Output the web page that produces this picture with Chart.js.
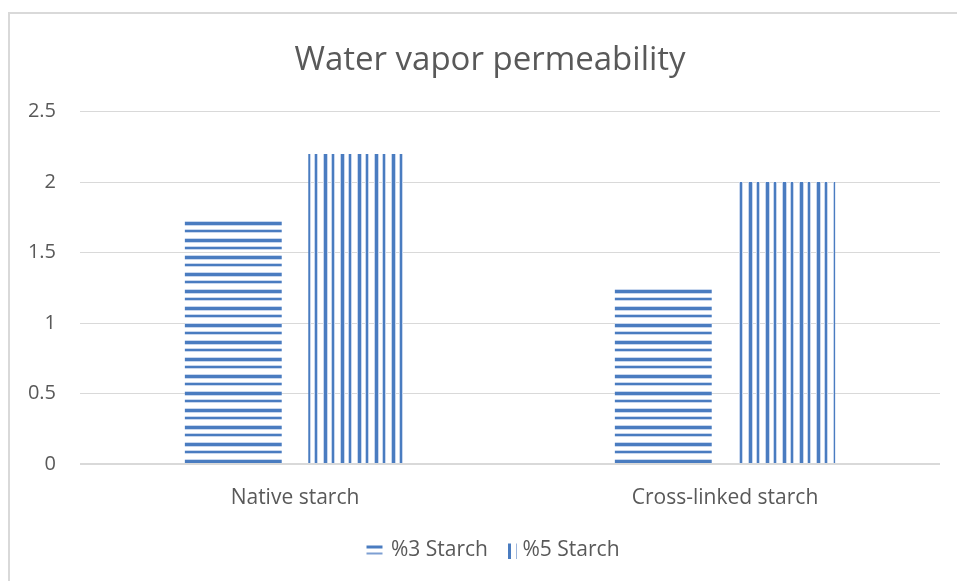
<!DOCTYPE html>
<html><head><meta charset="utf-8">
<script src="https://cdn.jsdelivr.net/npm/chart.js@4"></script>
<style>
html,body{margin:0;padding:0;background:#fff;}
#wrap{position:relative;width:957px;height:581px;overflow:hidden;background:#fff;}
#frame{position:absolute;left:8px;top:12px;width:1000px;height:1000px;border:2px solid #d9d9d9;box-sizing:border-box;}
canvas{position:absolute;left:0;top:0;}
</style></head><body>
<div id="wrap"><div id="frame"></div><canvas id="c" width="957" height="581"></canvas></div>
<script>
const categories = ['Native starch', 'Cross-linked starch'];
const seriesNames = ['%3 Starch', '%5 Starch'];
const starch3 = [1.73, 1.25];
const starch5 = [2.2, 2.0];
const yTicks = [0, 0.5, 1, 1.5, 2, 2.5];
const chartTitle = 'Water vapor permeability';

const CORE = '#4a7cc0';
const HALO = '#c8d7ee';
const TEXT = '#595959';
const GRID = '#d9d9d9';
const FONT = "'Open Sans', sans-serif";

function tile(vertical) {
  const c = document.createElement('canvas');
  c.width = 17; c.height = 17;
  const g = c.getContext('2d');
  const band = (pos, len, color) => {
    g.fillStyle = color;
    if (vertical) g.fillRect(pos, 0, len, 17); else g.fillRect(0, pos, 17, len);
  };
  band(0, 1, HALO); band(1, 3, CORE); band(4, 1, HALO);
  band(8, 1, HALO); band(9, 2, CORE); band(11, 1, HALO);
  return g.createPattern(c, 'repeat');
}
function icon(vertical) {
  const c = document.createElement('canvas');
  const g = c.getContext && c.getContext('2d');
  if (vertical) {
    c.width = 36; c.height = 16;
    const h = c.getContext('2d');
    h.fillStyle = CORE; h.fillRect(21, 1, 3, 15);
    h.fillStyle = '#9db6dd'; h.fillRect(29, 1, 1, 15);
  } else {
    c.width = 20; c.height = 16;
    const h = c.getContext('2d');
    h.fillStyle = CORE; h.fillRect(3, 3, 16, 3);
    h.fillStyle = '#7d9fd2'; h.fillRect(3, 10, 16, 2);
  }
  return c;
}
const patterns = [tile(false), tile(true)];
const icons = [icon(false), icon(true)];

const shiftBoxes = {
  id: 'shiftBoxes',
  afterLayout(chart) {
    if (chart.titleBlock) chart.titleBlock.left = 40;
    if (chart.legend) chart.legend.left = 46;
  }
};

new Chart(document.getElementById('c'), {
  type: 'bar',
  data: {
    labels: categories,
    datasets: [
      { label: seriesNames[0], data: starch3, backgroundColor: patterns[0], borderWidth: 0 },
      { label: seriesNames[1], data: starch5, backgroundColor: patterns[1], borderWidth: 0 }
    ]
  },
  plugins: [shiftBoxes],
  options: {
    responsive: false,
    animation: false,
    events: [],
    categoryPercentage: 0.574,
    barPercentage: 0.785,
    layout: { padding: { left: 0, right: 17, top: 0, bottom: 10 } },
    plugins: {
      title: {
        display: true, text: chartTitle, color: TEXT,
        font: { family: FONT, size: 33, weight: 'normal' },
        padding: { top: 41, bottom: 31 }
      },
      legend: {
        position: 'bottom',
        labels: {
          color: TEXT, font: { family: FONT, size: 21 },
          usePointStyle: true, boxWidth: 14, boxHeight: 14, padding: 10,
          generateLabels: (chart) => chart.data.datasets.map((ds, i) => ({
            text: ds.label, pointStyle: icons[i], fillStyle: 'transparent',
            strokeStyle: 'transparent', lineWidth: 0, hidden: false,
            datasetIndex: i, fontColor: TEXT
          }))
        }
      },
      tooltip: { enabled: false }
    },
    scales: {
      x: {
        grid: { display: false, drawTicks: false },
        border: { display: false },
        ticks: { color: TEXT, font: { family: FONT, size: 21 }, padding: 21 },
        afterFit: (s) => { s.height = 66; }
      },
      y: {
        min: 0, max: 2.5,
        afterBuildTicks: (s) => { s.ticks = yTicks.map(v => ({ value: v })); },
        grid: {
          color: GRID, drawTicks: false,
          lineWidth: (ctx) => (ctx.tick && ctx.tick.value === 0 ? 2 : 1)
        },
        border: { display: false },
        ticks: { color: TEXT, font: { family: FONT, size: 20 }, padding: 24, callback: (v) => String(v) },
        afterFit: (s) => { s.width = 80; }
      }
    }
  }
});
</script>
</body></html>
